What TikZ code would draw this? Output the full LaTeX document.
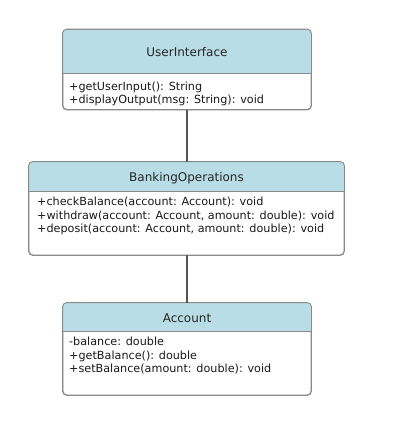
\documentclass[tikz,border=0pt]{standalone}
\usepackage{fontspec}
\setmainfont{DejaVu Sans}
\definecolor{headblue}{HTML}{B8DDE6}
\definecolor{edge}{HTML}{8A8A8A}
\definecolor{linkc}{HTML}{555555}
\begin{document}
\begin{tikzpicture}[x=1pt,y=-1pt,
  classbox/.style={draw=edge, line width=0.8pt, rounded corners=4pt, inner sep=0pt, fill=white},
  title/.style={font=\fontsize{12}{14}\selectfont, text=black!85, inner sep=0pt},
  member/.style={font=\fontsize{11.2}{13.3}\selectfont, align=left, anchor=north west, inner sep=0pt, text=black!90},
  link/.style={draw=linkc, line width=1.2pt}]
\useasboundingbox (0,0) rectangle (402,421);
\fill[white] (0,0) rectangle (402,421);
% UserInterface
\node[classbox, minimum width=248pt, minimum height=80pt] (ui) at (187,69.5) {};
\begin{scope}
  \clip (63,29) rectangle (311,73);
  \fill[headblue, rounded corners=4pt] (63,29.5) rectangle (311,109.5);
\end{scope}
\draw[edge, line width=0.8pt] (63,73) -- (311,73);
\draw[edge, line width=0.8pt, rounded corners=4pt] (ui.north west) rectangle (ui.south east);
\node[title] (uit) at (187,52) {UserInterface};
\node[member] (uim) at (69,81.5) {+getUserInput(): String\\+displayOutput(msg: String): void};
% BankingOperations
\node[classbox, minimum width=315pt, minimum height=93pt] (bo) at (186.5,208.5) {};
\begin{scope}
  \clip (29,162) rectangle (344,191);
  \fill[headblue, rounded corners=4pt] (29,162) rectangle (344,255);
\end{scope}
\draw[edge, line width=0.8pt] (29,191) -- (344,191);
\draw[edge, line width=0.8pt, rounded corners=4pt] (bo.north west) rectangle (bo.south east);
\node[title] (bot) at (186.5,178) {BankingOperations};
\node[member] (bom) at (37,197) {+checkBalance(account: Account): void\\+withdraw(account: Account, amount: double): void\\+deposit(account: Account, amount: double): void};
% Account
\node[classbox, minimum width=248pt, minimum height=92pt] (ac) at (187,349) {};
\begin{scope}
  \clip (63,303) rectangle (311,331);
  \fill[headblue, rounded corners=4pt] (63,303) rectangle (311,395);
\end{scope}
\draw[edge, line width=0.8pt] (63,331) -- (311,331);
\draw[edge, line width=0.8pt, rounded corners=4pt] (ac.north west) rectangle (ac.south east);
\node[title] (act) at (187,318) {Account};
\node[member] (acm) at (69,337) {-balance: double\\+getBalance(): double\\+setBalance(amount: double): void};
% connectors
\draw[link] (ui.south) -- (ui.south |- bo.north);
\draw[link] (ac.north |- bo.south) -- (ac.north);
\end{tikzpicture}
\end{document}
